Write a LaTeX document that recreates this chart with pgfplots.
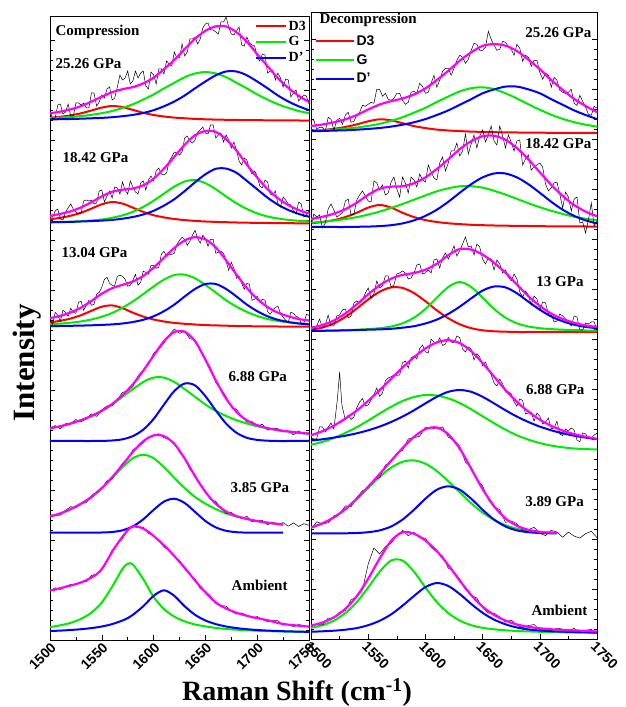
\documentclass[border=0pt]{standalone}
\usepackage{fontspec}
\setmainfont{Liberation Serif}
\setsansfont{Liberation Sans}
\usepackage{pgfplots}
\usepackage{pgfplotstable}
\pgfplotsset{compat=1.18}

\definecolor{cD3}{RGB}{255,0,0}
\definecolor{cG}{RGB}{0,235,0}
\definecolor{cDp}{RGB}{0,0,255}
\definecolor{cfit}{RGB}{255,0,255}
\newcommand{\lab}{\bfseries\fontsize{15}{17}\selectfont}

% fitted components, heights above each spectrum's own baseline (x r g b f = D3, G, D', fit)
\pgfplotstableread{
x r g b f
1500 3.2 2.9 1.6 7.7
1510 4.2 3.4 1.8 9.4
1520 5.7 4.0 2.0 11.7
1530 7.7 4.9 2.3 14.9
1540 10.5 6.2 2.7 19.4
1550 13.4 7.8 3.1 24.3
1560 15.0 10.0 3.8 28.8
1570 13.9 13.1 4.8 31.8
1580 11.1 16.7 6.1 33.9
1590 8.2 21.4 8.0 37.6
1600 6.0 26.5 10.8 43.3
1610 4.5 32.6 14.7 51.8
1620 3.4 38.2 19.5 61.1
1630 2.7 43.8 25.5 72.0
1640 2.1 47.5 32.7 82.3
1650 1.7 49.0 39.5 90.2
1660 1.4 47.5 45.7 94.6
1670 1.2 43.8 49.5 94.5
1680 1.0 38.2 49.5 88.7
1690 0.9 32.6 45.7 79.2
1700 0.8 26.5 39.5 66.8
1710 0.7 21.4 32.7 54.8
1720 0.6 16.7 25.5 42.8
1730 0.5 13.1 19.5 33.1
1740 0.5 10.0 14.7 25.2
1750 0.4 7.8 10.8 19.0
}\cLa
\pgfplotstableread{
x r g b f
1500 4.7 1.7 1.7 8.1
1510 6.2 2.0 1.9 10.1
1520 8.3 2.3 2.1 12.7
1530 11.3 2.8 2.5 16.6
1540 15.4 3.5 2.9 21.8
1550 19.7 4.5 3.4 27.6
1560 22.0 6.2 4.1 32.3
1570 20.4 8.6 5.3 34.3
1580 16.3 12.2 7.0 35.5
1590 12.1 17.1 9.5 38.7
1600 8.8 23.3 13.2 45.3
1610 6.6 30.4 18.4 55.4
1620 5.0 37.4 24.8 67.2
1630 3.9 42.5 32.9 79.3
1640 3.1 44.0 41.7 88.8
1650 2.5 40.8 49.7 93.0
1660 2.1 34.8 55.2 92.1
1670 1.8 27.5 55.4 84.7
1680 1.5 20.7 51.2 73.4
1690 1.3 15.0 43.1 59.4
1700 1.1 10.6 34.7 46.4
1710 1.0 7.5 26.3 34.8
1720 0.9 5.5 19.3 25.7
1730 0.8 4.1 14.0 18.9
1740 0.7 3.2 10.1 14.0
1750 0.6 2.6 7.3 10.5
}\cLb
\pgfplotstableread{
x r g b f
1500 4.9 3.1 1.1 9.1
1510 6.5 3.7 1.3 11.5
1520 8.8 4.6 1.5 14.9
1530 12.1 5.9 1.7 19.7
1540 16.5 7.8 2.0 26.3
1550 20.6 10.6 2.4 33.6
1560 21.9 14.3 2.9 39.1
1570 19.1 19.6 3.8 42.5
1580 14.6 25.9 5.3 45.8
1590 10.7 33.2 7.5 51.4
1600 7.8 40.8 11.0 59.6
1610 5.8 47.7 16.1 69.6
1620 4.4 52.3 22.7 79.4
1630 3.5 52.6 30.8 86.9
1640 2.8 49.0 38.3 90.1
1650 2.2 42.4 43.3 87.9
1660 1.9 34.7 43.3 79.9
1670 1.6 27.0 38.3 66.9
1680 1.3 20.6 30.8 52.7
1690 1.1 15.4 22.7 39.2
1700 1.0 11.3 16.1 28.4
1710 0.9 8.3 11.0 20.2
1720 0.8 6.3 7.5 14.6
1730 0.7 5.0 5.3 11.0
1740 0.6 3.9 3.8 8.3
1750 0.6 3.2 2.9 6.7
}\cLc
\pgfplotstableread{
x g b f
1500 12.6 0 12.6
1510 14.7 0 14.7
1520 17.5 0 17.5
1530 20.8 0 20.8
1540 25.0 0 25.0
1550 30.1 0.1 30.2
1560 36.5 0.5 37.0
1570 44.2 1.7 45.9
1580 51.8 4.9 56.7
1590 59.0 11.3 70.3
1600 63.4 22.0 85.4
1610 63.4 36.4 99.8
1620 59.0 50.0 109.0
1630 51.8 57.5 109.3
1640 44.2 55.6 99.8
1650 36.5 44.8 81.3
1660 30.1 30.6 60.7
1670 25.0 17.4 42.4
1680 20.8 8.2 29.0
1690 17.5 3.2 20.7
1700 14.7 1.1 15.8
1710 12.6 0.3 12.9
1720 10.9 0 10.9
1730 9.5 0 9.5
1740 8.3 0 8.3
1750 7.3 0 7.3
}\cLd
\pgfplotstableread{
x g b f
1500 16.1 0 16.1
1510 19.3 0 19.3
1520 23.6 0 23.6
1530 29.0 0 29.0
1540 35.7 0 35.7
1550 44.5 0.2 44.7
1560 54.8 0.7 55.5
1570 65.5 2.4 67.9
1580 74.5 6.3 80.8
1590 78.0 13.4 91.4
1600 74.5 22.8 97.3
1610 65.5 31.1 96.6
1620 54.8 34.0 88.8
1630 44.5 29.7 74.2
1640 35.7 20.8 56.5
1650 29.0 11.7 40.7
1660 23.6 5.3 28.9
1670 19.3 1.9 21.2
1680 16.1 0.5 16.6
1690 13.7 0.1 13.8
1700 11.6 0 11.6
1710 10.0 0 10.0
1720 8.7 0 8.7
1725 8.1 0 8.1
}\cLe
\pgfplotstableread{
x g b
1500 6.2 2.3
1510 8.0 2.7
1520 10.5 3.3
1530 14.5 4.1
1540 20.7 5.2
1550 30.8 6.8
1560 46.6 9.2
1570 64.5 12.8
1575 69.4 15.2
1580 68.9 18.5
1590 54.2 27.0
1600 36.4 37.4
1610 24.2 43.0
1620 16.7 37.4
1630 11.9 27.0
1640 8.8 18.5
1650 6.9 12.8
1660 5.4 9.2
1670 4.3 6.8
1680 3.6 5.2
1690 3.0 4.1
1700 2.6 3.3
1710 2.2 2.7
1720 1.9 2.3
1730 1.7 1.9
1740 1.5 1.7
1750 1.3 1.4
}\cLf
\pgfplotstableread{
x f
1500 42.7
1516 46.7
1532 51.7
1548 61.7
1561 83.3
1571 98.0
1579 106.7
1587 106.0
1597 100.0
1613 85.0
1629 66.7
1645 46.7
1661 30.0
1677 21.7
1693 16.7
1709 13.3
1725 9.3
1750 6.7
}\fLf
\pgfplotstableread{
x r g b f
1500 2.5 2.7 2.1 7.3
1510 3.3 3.2 2.3 8.8
1520 4.5 3.8 2.7 11.0
1530 6.3 4.6 3.0 13.9
1540 8.9 5.8 3.6 18.3
1550 12.0 7.4 4.4 23.8
1560 14.0 9.5 5.3 28.8
1570 13.0 12.4 6.7 32.1
1580 10.1 16.1 8.6 34.8
1590 7.2 20.6 11.0 38.8
1600 5.2 25.5 14.2 44.9
1610 3.7 31.3 18.3 53.3
1620 2.8 36.8 22.9 62.5
1630 2.2 41.9 28.5 72.6
1640 1.7 45.1 34.1 80.9
1650 1.4 46.0 40.0 87.4
1660 1.1 44.2 43.9 89.2
1670 0.9 40.0 46.7 87.6
1680 0.8 34.8 46.7 82.3
1690 0.7 29.0 43.9 73.6
1700 0.6 23.5 40.0 64.1
1710 0.5 18.6 34.1 53.2
1720 0.5 14.4 28.5 43.4
1730 0.4 11.1 22.9 34.4
1740 0.4 8.6 18.3 27.3
1750 0.3 6.7 14.2 21.2
}\cRa
\pgfplotstableread{
x r g b f
1500 3.7 4.3 0 8.0
1510 5.0 5.2 0 10.2
1520 6.9 6.4 0 13.3
1530 9.9 7.9 0 17.8
1540 14.2 9.9 0.2 24.3
1550 19.4 12.4 0.4 32.2
1560 22.0 15.4 0.9 38.3
1570 19.4 19.1 1.8 40.3
1580 14.2 23.0 3.6 40.8
1590 9.9 27.3 6.6 43.8
1600 6.9 31.6 11.1 49.6
1610 5.0 35.7 17.3 58.0
1620 3.7 38.7 25.2 67.6
1630 2.9 40.7 34.2 77.8
1640 2.2 40.8 42.8 85.8
1650 1.8 39.4 49.6 90.8
1660 1.5 36.2 53.5 91.2
1670 1.3 32.4 53.5 87.2
1680 1.1 28.1 49.6 78.8
1690 1.0 23.8 42.8 67.6
1700 0.8 19.8 34.2 54.8
1710 0.7 16.2 25.2 42.1
1720 0.6 13.1 17.3 31.0
1730 0.5 10.3 11.1 21.9
1740 0.5 8.3 6.6 15.4
1750 0.4 6.7 3.6 10.7
}\cRb
\pgfplotstableread{
x r g b f
1500 2.0 1.1 1.0 4.1
1510 4.5 1.3 1.2 7.0
1520 8.6 1.5 1.4 11.5
1530 15.0 1.9 1.6 18.5
1540 23.4 2.3 1.9 27.6
1550 32.5 2.9 2.3 37.7
1560 40.3 3.8 2.6 46.7
1570 44.6 5.5 3.2 53.3
1580 44.1 8.7 4.3 57.1
1590 38.9 14.3 5.8 59.0
1600 30.8 23.0 8.5 62.3
1610 21.6 34.3 12.4 68.3
1620 13.7 45.0 18.1 76.8
1630 7.7 50.0 25.3 83.0
1640 3.8 45.0 33.6 82.4
1650 1.7 34.3 41.4 77.4
1660 0.7 23.0 45.5 69.2
1670 0.3 14.3 44.6 59.2
1680 0 8.7 38.7 47.4
1690 0 5.5 30.3 35.8
1700 0 3.8 22.3 26.1
1710 0 2.9 15.5 18.4
1720 0 2.3 10.7 13.0
1730 0 1.9 7.3 9.2
1740 0 1.5 5.1 6.6
1750 0 1.3 3.8 5.1
}\cRc
\pgfplotstableread{
x g b f
1500 5.3 9.4 14.7
1510 8.1 10.7 18.8
1520 12.0 12.4 24.4
1530 17.1 14.3 31.4
1540 22.8 16.7 39.5
1550 29.5 19.7 49.2
1560 36.5 23.4 59.9
1570 43.2 28.0 71.2
1580 49.0 33.4 82.4
1590 53.0 39.7 92.7
1600 55.0 46.6 101.6
1610 54.4 53.2 107.6
1620 51.6 58.2 109.8
1630 46.9 60.0 106.9
1640 40.7 58.2 98.9
1650 33.7 53.2 86.9
1660 26.8 46.6 73.4
1670 20.3 39.7 60.0
1680 14.7 33.4 48.1
1690 10.4 28.0 38.4
1700 6.9 23.4 30.3
1710 4.4 19.7 24.1
1720 2.7 16.7 19.4
1730 1.5 14.3 15.8
1740 0.9 12.4 13.3
1750 0.5 10.7 11.2
}\cRd
\pgfplotstableread{
x g b f
1500 5.8 0 5.8
1510 9.9 0 9.9
1520 15.9 0 15.9
1530 24.2 0 24.2
1540 34.3 0.3 34.6
1550 45.5 1.1 46.6
1560 56.4 2.9 59.3
1570 65.7 6.8 72.5
1580 71.5 13.7 85.2
1590 72.9 23.5 96.4
1600 69.6 34.6 104.2
1610 62.2 43.6 105.8
1620 52.0 47.0 99.0
1630 41.1 43.6 84.7
1640 30.0 34.6 64.6
1650 20.7 23.5 44.2
1660 13.4 13.7 27.1
1670 8.1 6.8 14.9
1680 4.6 2.9 7.5
1690 2.4 1.1 3.5
1700 1.2 0.3 1.5
1710 0.6 0 0.6
1715 0.4 0 0.4
}\cRe
\pgfplotstableread{
x g b f
1500 6.2 2.2 8.4
1510 8.8 2.7 11.5
1520 13.4 3.3 16.7
1530 20.9 4.3 25.2
1540 31.9 5.9 37.8
1550 46.5 8.8 55.3
1560 62.3 13.2 75.5
1570 73.5 19.6 93.1
1580 73.5 28.3 101.8
1590 62.3 38.0 100.3
1600 46.5 46.9 93.4
1610 31.9 51.0 82.9
1620 20.9 48.0 68.9
1630 13.4 40.0 53.4
1640 8.8 30.1 38.9
1650 6.2 21.2 27.4
1660 4.7 14.4 19.1
1670 3.7 9.7 13.4
1680 3.0 6.5 9.5
1690 2.6 4.6 7.2
1700 2.2 3.5 5.7
1710 1.9 2.8 4.7
1720 1.7 2.3 4.0
1730 1.5 2.1 3.6
1740 1.3 1.8 3.1
1750 1.1 1.4 2.5
}\cRf

% measured spectra (black), noisy ones at 2.5 cm-1 steps
\pgfplotstableread{
x La Lb Lc Ra Rb Rc
1500 11 10 7 14 1 8
1502.5 2 7 3 13 13 2
1505 3 13 15 4 10 6
1507.5 16 15 12 6 12 13
1510 17 5 6 6 -1 4
1512.5 7 4 17 2 4 7
1515 9 12 15 16 18 17
1517.5 17 16 11 14 23 6
1520 5 20 19 3 17 6
1522.5 5 15 15 13 10 16
1525 18 12 14 15 12 17
1527.5 18 10 25 9 14 22
1530 16 11 26 18 26 23
1532.5 18 23 17 21 28 14
1535 13 24 22 11 12 16
1537.5 13 23 27 12 13 29
1540 28 24 22 18 27 31
1542.5 28 20 23 21 32 29
1545 15 21 33 28 36 32
1547.5 19 33 35 27 31 39
1550 26 34 40 29 26 44
1552.5 23 22 48 31 25 34
1555 32 28 50 30 46 38
1557.5 34 33 44 44 44 51
1560 21 26 42 44 37 44
1562.5 23 37 42 37 42 46
1565 34 36 51 40 32 56
1567.5 46 30 52 34 34 56
1570 41 42 51 33 45 45
1572.5 43 34 48 35 50 47
1575 50 30 41 40 38 58
1577.5 37 43 42 40 30 59
1580 40 37 47 33 50 61
1582.5 50 32 53 29 44 59
1585 43 30 42 31 34 53
1587.5 48 41 45 41 50 54
1590 50 43 56 42 47 59
1592.5 35 34 55 40 40 67
1595 32 44 53 50 53 68
1597.5 49 48 62 47 47 58
1600 46 43 62 40 45 59
1602.5 37 53 59 41 62 62
1605 52 56 60 50 55 59
1607.5 52 50 73 58 49 72
1610 47 49 76 46 47 73
1612.5 60 51 71 53 64 64
1615 57 63 73 62 70 74
1617.5 55 67 73 65 56 79
1620 69 72 74 65 64 73
1622.5 63 71 83 58 76 79
1625 63 69 87 65 76 86
1627.5 77 72 90 73 84 76
1630 65 86 88 78 71 81
1632.5 69 88 82 76 76 88
1635 82 83 86 70 93 95
1637.5 82 81 92 74 73 85
1640 84 84 97 83 83 86
1642.5 77 92 89 90 92 77
1645 82 94 84 89 79 88
1647.5 93 97 92 83 91 85
1650 97 91 89 83 97 73
1652.5 98 90 81 86 85 68
1655 91 99 88 102 92 74
1657.5 91 99 88 94 101 73
1660 89 86 74 88 86 62
1662.5 87 89 75 83 82 72
1665 99 91 76 84 101 68
1667.5 99 82 74 92 91 59
1670 104 89 66 91 79 62
1672.5 94 84 57 87 92 55
1675 87 76 65 84 85 51
1677.5 86 82 59 78 76 58
1680 90 74 49 89 86 53
1682.5 94 63 51 85 87 40
1685 76 59 44 72 62 35
1687.5 75 66 38 78 68 41
1690 84 64 44 76 72 37
1692.5 78 55 43 67 57 27
1695 76 50 27 73 60 36
1697.5 75 53 28 73 62 33
1700 64 48 31 61 64 22
1702.5 60 38 25 54 60 30
1705 67 36 28 60 43 29
1707.5 66 44 27 58 36 18
1710 48 42 16 46 39 18
1712.5 50 30 13 56 44 10
1715 51 29 17 53 45 11
1717.5 41 33 20 43 33 18
1720 48 20 21 41 19 16
1722.5 43 17 14 40 35 13
1725 34 27 10 41 30 10
1727.5 42 24 7 44 16 6
1730 41 20 5 30 28 16
1732.5 24 19 15 28 30 15
1735 28 13 14 38 4 2
1737.5 31 10 11 32 5 2
1740 20 22 10 26 -6 9
1742.5 23 20 4 19 7 8
1745 26 7 4 18 24 10
1747.5 25 9 13 27 1 10
1750 17 13 12 25 6 2
}\blkN
\pgfplotstableread{
x Ld Le Lf Re Rf
1500 13.2 18.1 42.3 3.8 7.2
1505 15.4 17.2 45.5 11.5 10.2
1510 12 17.6 43.8 9.5 8.8
1515 17.3 22.4 47 10.5 15.9
1520 17.2 26.1 48.9 17.5 15.8
1525 21.5 24.8 48.7 19.2 21.9
1530 19.3 29.3 51.3 27.4 23.4
1535 22 30 51.7 26.6 34.2
1540 27.1 37 57.9 35.8 37.2
1545 24.6 41 59.2 42.6 44.2
1550 31.1 44 65.2 45 70
1555 35.1 51.9 72.1 53.4 86
1560 35.2 53.5 83.4 55.7 80
1565 41.5 62.2 89.1 68.3 87.3
1570 48.6 69.4 94.9 71.3 91
1575 50.1 73.2 103.4 80.1 98.1
1580 54.3 83 106.8 82.8 103.6
1585 65.3 85.9 105.7 94.4 98.3
1590 70.9 89.9 106.2 95.6 101.5
1595 76.4 95.4 99.8 97.1 96.6
1600 87.8 96.8 97.6 106.2 95.8
1605 92 99 93.7 105.4 86.7
1610 97.7 94.9 86 104.2 82
1615 106.1 93.5 83.5 106.4 78
1620 112 90 76.8 96.2 65.9
1625 107.7 80.5 72.9 92.7 62.1
1630 109.6 74.5 64.5 87.1 54.9
1635 102.3 63.2 58.6 71.1 44.4
1640 101.3 58 54.4 66.2 38.9
1645 91.7 47.9 44.7 54 35.9
1650 80.4 41.5 42.1 47.4 26.2
1655 73.1 33.3 37.2 33.7 20.9
1660 58.3 31.2 29.8 25.9 20.9
1665 52.1 24.5 27.9 23.8 16.9
1670 44.2 19.2 27.1 10.9 11.9
1675 34.2 20.2 21.9 12.4 13.9
1680 31.7 16.9 19.2 9.5 8.9
1685 24.5 14.2 20.4 3.1 6.3
1690 18.9 16.3 18 3.5 8.4
1695 19.4 11 15.3 6.1 9.5
1700 15.2 12.1 16.8 -0.1 3.9
1705 16.7 12.3 13.8 -2.3 5.5
1710 10.8 7.8 11.7 3 2
1715 12.8 10.3 12.6 1.2 5.9
1720 12.4 8.5 12.6 -4 4.9
1725 9 10.1 8.1 1.2 2.9
1730 9.8 6.5 9 -2.8 5.7
1735 6.2 9.8 6.4 -4.8 1
1740 10.1 6.2 8.7 -0.4 3.7
1745 6.9 9 7.8 2 4.6
1750 8.2 7.4 6.1 -4.4 1
}\blk
\pgfplotstableread{
x y
1500 11.9
1502.5 11
1505 11.2
1507.5 23
1510 23
1512.5 18
1515 23
1517.5 27
1520 20.9
1523 50
1525 78
1527 45
1530 30
1532.5 35
1535 30.6
1537.5 33
1540 42.3
1542.5 48
1545 51.4
1547.5 44
1550 45
1552.5 50
1555 55.3
1557.5 62
1560 53.6
1562.5 57
1565 69.1
1567.5 72
1570 73.3
1572.5 75
1575 74.7
1577.5 75
1580 87.3
1582.5 89
1585 82
1587.5 92
1590 94.1
1592.5 91
1595 101.4
1597.5 105
1600 98.1
1602.5 97
1605 110.9
1607.5 108
1610 106.9
1612.5 112
1615 104.5
1617.5 106
1620 112.6
1622.5 108
1625 107
1627.5 114
1630 112.5
1632.5 101
1635 98
1637.5 103
1640 101
1642.5 90
1645 96.4
1647.5 93
1650 84.1
1652.5 88
1655 80.9
1657.5 75
1660 67.1
1662.5 64
1665 70.9
1667.5 66
1670 57.9
1672.5 58
1675 56.2
1677.5 48
1680 43.9
1682.5 51
1685 49.6
1687.5 36
1690 37
1692.5 38
1695 28.8
1697.5 37
1700 33.8
1702.5 26
1705 27.9
1707.5 32
1710 21.3
1712.5 22
1715 28.8
1717.5 16
1720 14.5
1722.5 21
1725 19
1727.5 22
1730 20
1732.5 10
1735 8.3
1737.5 17
1740 16.1
1742.5 12
1745 11.6
1747.5 15
1750 16.8
}\blkRd

\pgfplotsset{
  panel/.style={
    scale only axis, anchor=south west,
    xmin=1500, xmax=1750, ymin=0,
    xtick={1500,1550,1600,1650,1700,1750},
    xticklabels={1500,1550,1600,1650,1700,1750},
    minor x tick num=1,
    ytick={0,50,...,600}, yticklabels={}, minor y tick num=4,
    xtick pos=left, tick align=inside,
    major tick length=5pt, minor tick length=3pt,
    axis line style={line width=0.9pt},
    tick style={line width=0.6pt, black},
    legend cell align=left,
  },
  comp/.style={line width=2pt, smooth, forget plot},
  fitc/.style={cfit, line width=2.2pt, smooth, forget plot},
  dat/.style={black, line width=0.5pt, forget plot},
}

\begin{document}
\begin{tikzpicture}
\path[use as bounding box] (0,0) rectangle (625pt,707pt);

% ---------------- compression ----------------
\begin{axis}[panel, at={(50pt,67pt)}, width=259pt, height=624pt, ymax=624,
  xticklabel style={rotate=45, anchor=north east, inner sep=1pt,
    font=\sffamily\bfseries\fontsize{14}{14}\selectfont},
  legend style={draw=none, fill=none, at={(0.78,0.998)}, anchor=north west,
    font=\bfseries\fontsize{14}{14}\selectfont, row sep=2pt,
    nodes={inner sep=1.5pt}},
  legend image code/.code={\draw[#1, line width=2pt] (0pt,0pt) -- (30pt,0pt);},
]
\addlegendimage{color=cD3}\addlegendentry{D3}
\addlegendimage{color=cG}\addlegendentry{G}
\addlegendimage{color=cDp}\addlegendentry{D'}

% 25.26 GPa
\addplot[comp, cD3] table[x=x, y expr=\thisrow{r}+519] {\cLa};
\addplot[comp, cG]  table[x=x, y expr=\thisrow{g}+519] {\cLa};
\addplot[comp, cDp] table[x=x, y expr=\thisrow{b}+519] {\cLa};
\addplot[dat] table[x=x, y expr=\thisrow{La}+519] {\blkN};
\addplot[fitc] table[x=x, y expr=\thisrow{f}+519] {\cLa};
% 18.42 GPa
\addplot[comp, cD3] table[x=x, y expr=\thisrow{r}+416] {\cLb};
\addplot[comp, cG]  table[x=x, y expr=\thisrow{g}+416] {\cLb};
\addplot[comp, cDp] table[x=x, y expr=\thisrow{b}+416] {\cLb};
\addplot[dat] table[x=x, y expr=\thisrow{Lb}+416] {\blkN};
\addplot[fitc] table[x=x, y expr=\thisrow{f}+416] {\cLb};
% 13.04 GPa
\addplot[comp, cD3] table[x=x, y expr=\thisrow{r}+312.7] {\cLc};
\addplot[comp, cG]  table[x=x, y expr=\thisrow{g}+312.7] {\cLc};
\addplot[comp, cDp] table[x=x, y expr=\thisrow{b}+312.7] {\cLc};
\addplot[dat] table[x=x, y expr=\thisrow{Lc}+312.7] {\blkN};
\addplot[fitc] table[x=x, y expr=\thisrow{f}+312.7] {\cLc};
% 6.88 GPa
\addplot[comp, cG]  table[x=x, y expr=\thisrow{g}+199] {\cLd};
\addplot[comp, cDp] table[x=x, y expr=\thisrow{b}+199] {\cLd};
\addplot[dat] table[x=x, y expr=\thisrow{Ld}+199] {\blk};
\addplot[fitc] table[x=x, y expr=\thisrow{f}+199] {\cLd};
% 3.85 GPa
\addplot[comp, cG]  table[x=x, y expr=\thisrow{g}+107.3] {\cLe};
\addplot[comp, cDp] table[x=x, y expr=\thisrow{b}+107.3] {\cLe};
\addplot[dat] table[x=x, y expr=\thisrow{Le}+107.3] {\blk};
\addplot[fitc] table[x=x, y expr=\thisrow{f}+107.3] {\cLe};
% ambient
\addplot[comp, cG]  table[x=x, y expr=\thisrow{g}+6.7] {\cLf};
\addplot[comp, cDp] table[x=x, y expr=\thisrow{b}+6.7] {\cLf};
\addplot[dat] table[x=x, y expr=\thisrow{Lf}+6.7] {\blk};
\addplot[fitc] table[x=x, y expr=\thisrow{f}+6.7] {\fLf};

\node[anchor=west, font=\lab] at (axis cs:1502,608) {Compression};
\node[anchor=west, font=\lab] at (axis cs:1502,576) {25.26 GPa};
\node[anchor=west, font=\lab] at (axis cs:1508.7,482) {18.42 GPa};
\node[anchor=west, font=\lab] at (axis cs:1507.7,387) {13.04 GPa};
\node[anchor=west, font=\lab] at (axis cs:1669,263) {6.88 GPa};
\node[anchor=west, font=\lab] at (axis cs:1671,152) {3.85 GPa};
\node[anchor=west, font=\lab] at (axis cs:1672,55) {Ambient};
\end{axis}

% ---------------- decompression ----------------
\begin{axis}[panel, at={(311pt,68pt)}, width=286pt, height=627pt, ymax=627,
  xticklabel style={rotate=-45, anchor=north west, inner sep=1pt,
    font=\sffamily\bfseries\fontsize{14}{14}\selectfont},
  legend style={draw=none, fill=none, at={(0.003,0.968)}, anchor=north west,
    font=\sffamily\bfseries\fontsize{14}{14}\selectfont, row sep=4.5pt,
    nodes={inner sep=1.5pt}},
  legend image code/.code={\draw[#1, line width=2pt] (0pt,0pt) -- (38pt,0pt);},
]
\addlegendimage{color=cD3}\addlegendentry{D3}
\addlegendimage{color=cG}\addlegendentry{G}
\addlegendimage{color=cDp}\addlegendentry{D'}

% 25.26 GPa
\addplot[comp, cD3] table[x=x, y expr=\thisrow{r}+505.7] {\cRa};
\addplot[comp, cG]  table[x=x, y expr=\thisrow{g}+505.7] {\cRa};
\addplot[comp, cDp] table[x=x, y expr=\thisrow{b}+505.7] {\cRa};
\addplot[dat] table[x=x, y expr=\thisrow{Ra}+505.7] {\blkN};
\addplot[fitc] table[x=x, y expr=\thisrow{f}+505.7] {\cRa};
% 18.42 GPa
\addplot[comp, cD3] table[x=x, y expr=\thisrow{r}+412] {\cRb};
\addplot[comp, cG]  table[x=x, y expr=\thisrow{g}+412] {\cRb};
\addplot[comp, cDp] table[x=x, y expr=\thisrow{b}+412] {\cRb};
\addplot[dat] table[x=x, y expr=\thisrow{Rb}+412] {\blkN};
\addplot[fitc] table[x=x, y expr=\thisrow{f}+412] {\cRb};
% 13 GPa
\addplot[comp, cD3] table[x=x, y expr=\thisrow{r}+307] {\cRc};
\addplot[comp, cG]  table[x=x, y expr=\thisrow{g}+307] {\cRc};
\addplot[comp, cDp] table[x=x, y expr=\thisrow{b}+307] {\cRc};
\addplot[dat] table[x=x, y expr=\thisrow{Rc}+307] {\blkN};
\addplot[fitc] table[x=x, y expr=\thisrow{f}+307] {\cRc};
% 6.88 GPa
\addplot[comp, cG]  table[x=x, y expr=\thisrow{g}+189] {\cRd};
\addplot[comp, cDp] table[x=x, y expr=\thisrow{b}+189] {\cRd};
\addplot[dat] table[x=x, y expr=\thisrow{y}+189] {\blkRd};
\addplot[fitc] table[x=x, y expr=\thisrow{f}+189] {\cRd};
% 3.89 GPa
\addplot[comp, cG]  table[x=x, y expr=\thisrow{g}+105.7] {\cRe};
\addplot[comp, cDp] table[x=x, y expr=\thisrow{b}+105.7] {\cRe};
\addplot[dat] table[x=x, y expr=\thisrow{Re}+105.7] {\blk};
\addplot[fitc] table[x=x, y expr=\thisrow{f}+105.7] {\cRe};
% ambient
\addplot[comp, cG]  table[x=x, y expr=\thisrow{g}+5] {\cRf};
\addplot[comp, cDp] table[x=x, y expr=\thisrow{b}+5] {\cRf};
\addplot[dat] table[x=x, y expr=\thisrow{Rf}+5] {\blk};
\addplot[fitc] table[x=x, y expr=\thisrow{f}+5] {\cRf};

\node[anchor=west, font=\lab] at (axis cs:1504.4,619) {Decompression};
\node[anchor=west, font=\lab] at (axis cs:1684.4,606) {25.26 GPa};
\node[anchor=west, font=\lab] at (axis cs:1684.4,495) {18.42 GPa};
\node[anchor=west, font=\lab] at (axis cs:1694,357) {13 GPa};
\node[anchor=west, font=\lab] at (axis cs:1685,249) {6.88 GPa};
\node[anchor=west, font=\lab] at (axis cs:1684.4,137) {3.89 GPa};
\node[anchor=west, font=\lab] at (axis cs:1689.7,29) {Ambient};
\end{axis}

\node[anchor=base, font=\bfseries\fontsize{28}{30}\selectfont] at (297pt,6pt)
  {Raman Shift (cm\textsuperscript{-1})};
\node[anchor=base, rotate=90, font=\bfseries\fontsize{31}{33}\selectfont] at (34pt,344pt)
  {Intensity};
\end{tikzpicture}
\end{document}
